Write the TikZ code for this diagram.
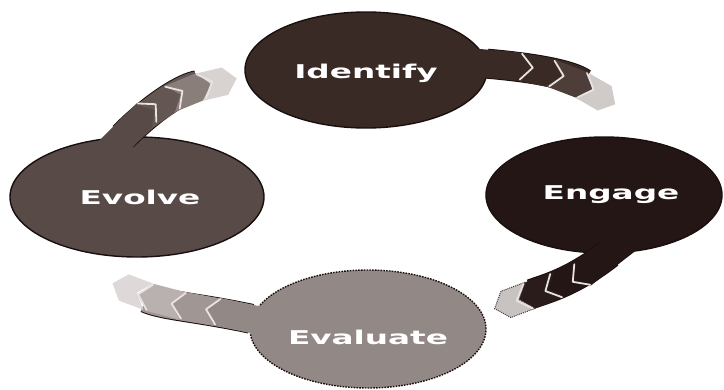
\documentclass[tikz,border=0pt]{standalone}
\usepackage{fontspec}
\setmainfont{DejaVu Sans}
\usetikzlibrary{shapes.geometric,decorations.markings}
\definecolor{cIdent}{RGB}{58,42,38}
\definecolor{cEng}{RGB}{36,22,20}
\definecolor{cEvo}{RGB}{88,74,70}
\definecolor{cEval}{RGB}{146,136,133}
\definecolor{edgecol}{RGB}{25,15,15}
\definecolor{sepcol}{RGB}{232,226,224}
\definecolor{aTwo}{RGB}{78,62,58}
\definecolor{aTip}{RGB}{208,202,201}
\definecolor{bTwo}{RGB}{42,28,26}
\definecolor{bTip}{RGB}{200,194,193}
\definecolor{cOne}{RGB}{160,150,148}
\definecolor{cTwo}{RGB}{185,177,175}
\definecolor{cTip}{RGB}{222,217,216}
\definecolor{dOne}{RGB}{100,86,82}
\definecolor{dTwo}{RGB}{138,126,123}
\definecolor{dTip}{RGB}{216,210,209}
\definecolor{tipline}{RGB}{70,60,60}
\def\hw{14pt}
\def\nd{12pt}
\newcommand\tailpiece[2]{%
  \fill[#2] (-30pt,-\hw) -- (#1,-\hw) -- (#1+\nd,0pt) -- (#1,\hw) -- (-30pt,\hw) -- cycle;}
\newcommand\midpiece[2]{%
  \fill[#2] (-#1,-\hw) -- (#1,-\hw) -- (#1+\nd,0pt) -- (#1,\hw) -- (-#1,\hw) -- (-#1+\nd,0pt) -- cycle;}
\newcommand\sepline[1]{%
  \draw[sepcol,line width=1.8pt,line join=round,line cap=round] (#1,-\hw+1pt) -- (#1+\nd,0pt) -- (#1,\hw-1pt);}
\newcommand\tippiece[3]{%
  \filldraw[fill=#2,#3] (-#1,-\hw) -- (#1,-\hw) -- (#1+\nd,0pt) -- (#1,\hw) -- (-#1,\hw) -- (-#1+\nd,0pt) -- cycle;}
\begin{document}
\begin{tikzpicture}[x=1pt,y=1pt,
  blob/.style={ellipse, inner sep=0pt, line width=1.4pt, draw=edgecol, text=white,
    font=\fontsize{19}{21}\selectfont\bfseries},
  cycarrow/.style n args={5}{
     preaction={draw=edgecol, line width=1pt, double=#2, double distance=28pt, shorten >=38pt},
     postaction={decoration={markings,
       mark=at position 1pt with {\tailpiece{33pt}{#1}},
       mark=at position 0.36 with {\midpiece{17pt}{#2}},
       mark=at position 0.60 with {\midpiece{17pt}{#3}},
       mark=at position 0.82 with {\tippiece{13pt}{#4}{#5}}}, decorate},
     postaction={decoration={markings,
       mark=at position 1pt with {\sepline{33pt}},
       mark=at position 0.36 with {\sepline{17pt}},
       mark=at position 0.60 with {\sepline{17pt}}}, decorate}}]
\useasboundingbox (0,0) rectangle (724,389);
\fill[white] (0,0) rectangle (724,389);
% ellipses
\node[blob, fill=cIdent, minimum width=242pt, minimum height=116pt] (identify) at (366,319)
  {\raisebox{-3pt}[\height][\depth]{\scalebox{1.72}[1]{Identify}}};
\node[blob, fill=cEng, minimum width=236pt, minimum height=116pt] (engage) at (604,194)
  {\hspace*{14pt}\scalebox{1.72}[1]{Engage}};
\node[blob, fill=cEvo, minimum width=254pt, minimum height=120pt] (evolve) at (137,192)
  {\hspace*{6pt}\scalebox{1.72}[1]{Evolve}};
\node[blob, fill=cEval, dash pattern=on 1.6pt off 1.2pt, minimum width=236pt, minimum height=118pt] (evaluate) at (368,60)
  {\raisebox{-8pt}[\height][\depth]{\scalebox{1.72}[1]{Evaluate}}};
% free ends of the arrows
\coordinate (tipA) at (614,284);
\coordinate (tipB) at (497,81);
\coordinate (tipC) at (112,107);
\coordinate (tipD) at (235,309);
% chevron arrows
\path[cycarrow={cIdent}{cIdent}{aTwo}{aTip}{draw=none}] (identify.3) to[out=-5,in=145] (tipA);
\path[cycarrow={cEng}{cEng}{bTwo}{bTip}{draw=tipline,densely dotted,line width=1pt}] (engage.-85) to[out=218,in=22] (tipB);
\path[cycarrow={cEval}{cOne}{cTwo}{cTip}{draw=none}] (evaluate.175) to[out=168,in=-25] (tipC);
\path[cycarrow={cEvo}{dOne}{dTwo}{dTip}{draw=none}] (evolve.103) to[out=45,in=188] (tipD);
\end{tikzpicture}
\end{document}
